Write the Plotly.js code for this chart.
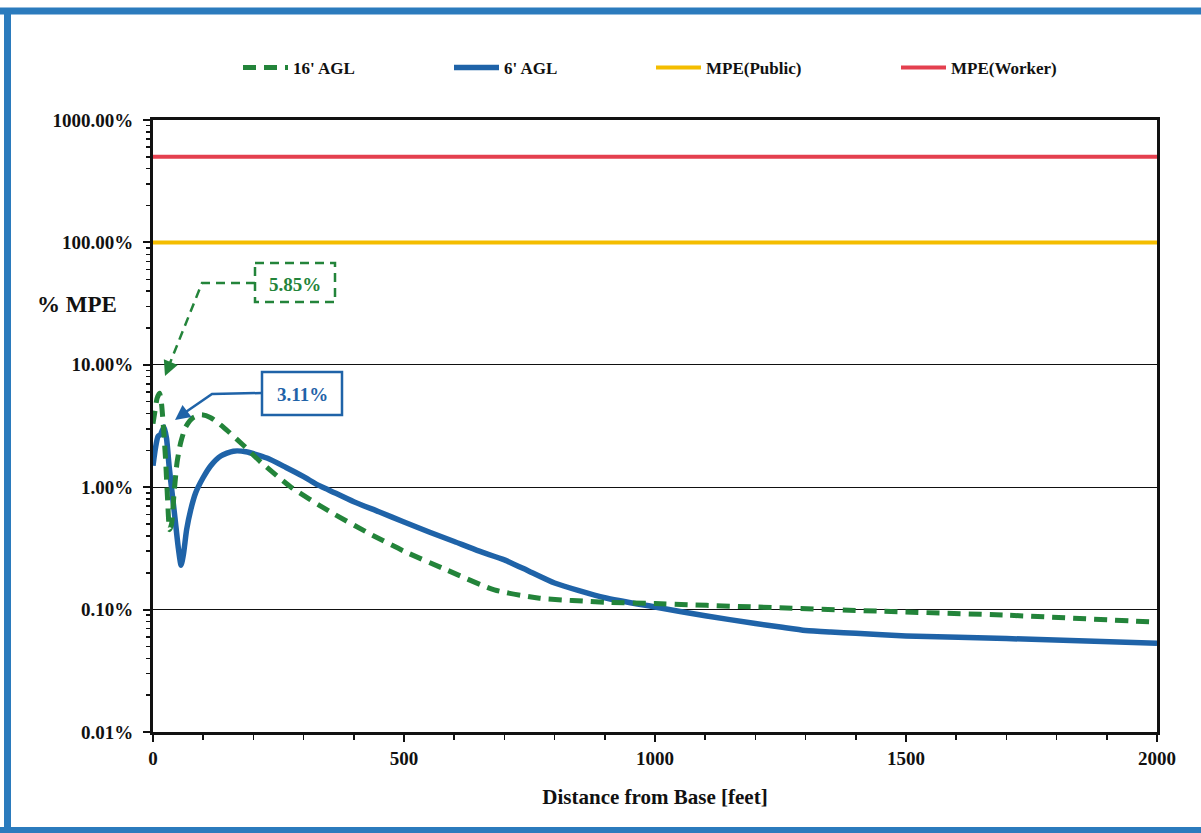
<!DOCTYPE html>
<html>
<head>
<meta charset="utf-8">
<script src="https://cdn.plot.ly/plotly-3.0.1.min.js"></script>
<style>
  html, body { margin: 0; padding: 0; background: #ffffff; }
  #chart { width: 1201px; height: 833px; }
</style>
</head>
<body>
<div id="chart"></div>
<script>
// ---- data (distance in feet, exposure in % of MPE) ----
var agl16X = [0, 4, 8, 13, 17, 21, 25, 29, 33, 37, 42, 48, 55, 65, 80, 97, 115, 140, 180, 215, 275, 350, 430, 500, 586, 680, 770, 900, 1000, 1200, 1450, 1700, 2000];
var agl16Y = [3.3, 4.2, 5.3, 5.85, 4.8, 3.0, 1.7, 0.8, 0.45, 0.5, 0.9, 1.6, 2.3, 3.1, 3.7, 3.9, 3.7, 3.1, 2.2, 1.6, 1.0, 0.64, 0.42, 0.30, 0.21, 0.145, 0.124, 0.115, 0.112, 0.105, 0.097, 0.090, 0.079];

var agl6X = [0, 5, 10, 15, 22, 27, 32, 38, 44, 50, 56, 61, 67, 75, 85, 100, 115, 135, 160, 185, 227, 265, 300, 327, 350, 400, 450, 500, 550, 600, 650, 700, 750, 800, 900, 1000, 1100, 1200, 1250, 1300, 1350, 1400, 1500, 1700, 2000];
var agl6Y = [1.5, 2.1, 2.6, 2.7, 3.11, 2.5, 1.5, 0.9, 0.55, 0.33, 0.23, 0.29, 0.45, 0.65, 0.90, 1.2, 1.5, 1.8, 1.97, 1.95, 1.73, 1.45, 1.22, 1.05, 0.95, 0.76, 0.63, 0.52, 0.43, 0.36, 0.30, 0.255, 0.205, 0.165, 0.125, 0.105, 0.089, 0.077, 0.072, 0.0675, 0.0655, 0.064, 0.061, 0.058, 0.053];

var mpeX = [0, 2000];
var mpePublicY = [100, 100];
var mpeWorkerY = [500, 500];

var seriesNames = ["16' AGL", "6' AGL", "MPE(Public)", "MPE(Worker)"];
var yTickVals = [0.01, 0.1, 1, 10, 100, 1000];
var yTickText = ["0.01%", "0.10%", "1.00%", "10.00%", "100.00%", "1000.00%"];
var xTickVals = [0, 500, 1000, 1500, 2000];
var peakLabels = ["5.85%", "3.11%"];

// ---- layout geometry (pixels) ----
var W = 1201, H = 833;
var M = {l: 153, r: 44, t: 120, b: 101};
var plotW = W - M.l - M.r, plotH = H - M.t - M.b;
function px(xp) { return (xp - M.l) / plotW; }
function py(yp) { return (H - M.b - yp) / plotH; }

var GREEN = '#23843a', BLUE = '#1f63a8', YELLOW = '#f4bd00', RED = '#e4404f';
var FONT = 'Liberation Serif, Times New Roman, serif';

var traces = [
  {x: mpeX, y: mpeWorkerY, name: seriesNames[3], mode: 'lines', line: {color: RED, width: 4}, legend: 'legend4'},
  {x: mpeX, y: mpePublicY, name: seriesNames[2], mode: 'lines', line: {color: YELLOW, width: 4}, legend: 'legend3'},
  {x: agl6X, y: agl6Y, name: seriesNames[1], mode: 'lines', line: {color: BLUE, width: 5.5, shape: 'spline', smoothing: 0.6}, legend: 'legend2'},
  {x: agl16X, y: agl16Y, name: seriesNames[0], mode: 'lines', line: {color: GREEN, width: 5, dash: '13px,8px', shape: 'spline', smoothing: 0.6}, legend: 'legend'}
];

function legendAt(xpix) {
  return {x: px(xpix), xanchor: 'left', y: py(68), yanchor: 'middle', orientation: 'h',
          bgcolor: 'rgba(0,0,0,0)', font: {family: FONT, size: 17, color: '#111', weight: 'bold'}, itemwidth: 45};
}

var shapes = [
  // outer blue frame (scan border)
  {type: 'line', xref: 'paper', yref: 'paper', x0: px(0), x1: px(1201), y0: py(11), y1: py(11), line: {color: '#2b7bbd', width: 7}},
  {type: 'line', xref: 'paper', yref: 'paper', x0: px(7.5), x1: px(7.5), y0: py(8), y1: py(833), line: {color: '#2b7bbd', width: 7}},
  {type: 'line', xref: 'paper', yref: 'paper', x0: px(0), x1: px(1201), y0: py(830), y1: py(830), line: {color: '#2b7bbd', width: 6}},
  // green callout box (dashed) and leader
  {type: 'rect', xref: 'paper', yref: 'paper', x0: px(255), x1: px(335), y0: py(263), y1: py(302), line: {color: GREEN, width: 2.5, dash: '9px,6px'}},
  {type: 'path', xref: 'paper', yref: 'paper', path: 'M' + px(255) + ',' + py(283) + ' L' + px(202) + ',' + py(283) + ' L' + px(168) + ',' + py(368),
   line: {color: GREEN, width: 2.5, dash: '9px,6px'}},
  // blue callout box and leader
  {type: 'rect', xref: 'paper', yref: 'paper', x0: px(262), x1: px(342), y0: py(372), y1: py(415), line: {color: BLUE, width: 2.5}},
  {type: 'path', xref: 'paper', yref: 'paper', path: 'M' + px(262) + ',' + py(393) + ' L' + px(212) + ',' + py(394) + ' L' + px(180) + ',' + py(416),
   line: {color: BLUE, width: 2.5}}
];

var annotations = [
  {xref: 'paper', yref: 'paper', x: px(295), y: py(284), xanchor: 'center', yanchor: 'middle', text: '<b>' + peakLabels[0] + '</b>', showarrow: false,
   font: {family: FONT, size: 19, color: GREEN}},
  {xref: 'paper', yref: 'paper', x: px(302), y: py(394), xanchor: 'center', yanchor: 'middle', text: '<b>' + peakLabels[1] + '</b>', showarrow: false,
   font: {family: FONT, size: 19, color: BLUE}},
  {xref: 'paper', yref: 'paper', x: px(165), y: py(376), ax: 5, ay: -12, text: '', showarrow: true,
   arrowhead: 2, arrowsize: 1.2, arrowwidth: 2.5, arrowcolor: GREEN},
  {xref: 'paper', yref: 'paper', x: px(175), y: py(420), ax: 8, ay: -6, text: '', showarrow: true,
   arrowhead: 2, arrowsize: 1.2, arrowwidth: 2.5, arrowcolor: BLUE},
  {xref: 'paper', yref: 'paper', x: px(77), y: py(304), xanchor: 'center', yanchor: 'middle', text: '<b>% MPE</b>', showarrow: false,
   font: {family: FONT, size: 23, color: '#111'}}
];

var layout = {
  width: W, height: H,
  margin: M,
  paper_bgcolor: '#ffffff', plot_bgcolor: '#ffffff',
  font: {family: FONT, color: '#111'},
  showlegend: true,
  legend: legendAt(238),
  legend2: legendAt(449),
  legend3: legendAt(651),
  legend4: legendAt(896),
  xaxis: {
    range: [0, 2000], tickvals: xTickVals, tickmode: 'array',
    showgrid: false, zeroline: false,
    showline: true, linecolor: '#111', linewidth: 3, mirror: true,
    ticks: 'outside', ticklen: 7, tickwidth: 2, tickcolor: '#111',
    minor: {dtick: 100, ticks: 'outside', ticklen: 5, tickwidth: 1.5, tickcolor: '#111', showgrid: false},
    tickfont: {family: FONT, size: 19, color: '#111', weight: 'bold'},
    title: {text: '<b>Distance from Base [feet]</b>', font: {family: FONT, size: 21, color: '#111'}, standoff: 22}
  },
  yaxis: {
    type: 'log', range: [-2, 3], tickmode: 'array', tickvals: yTickVals, ticktext: yTickText,
    showgrid: true, gridcolor: '#111', gridwidth: 1.3, zeroline: false,
    showline: true, linecolor: '#111', linewidth: 3, mirror: true,
    ticks: 'outside', ticklen: 7, tickwidth: 2, tickcolor: '#111',
    minor: {dtick: 'D1', ticks: 'outside', ticklen: 4, tickwidth: 1.5, tickcolor: '#111', showgrid: false},
    tickfont: {family: FONT, size: 19, color: '#111', weight: 'bold'},
    ticklabelstandoff: 6
  },
  shapes: shapes,
  annotations: annotations
};

Plotly.newPlot('chart', traces, layout, {displayModeBar: false, staticPlot: true});
</script>
</body>
</html>
